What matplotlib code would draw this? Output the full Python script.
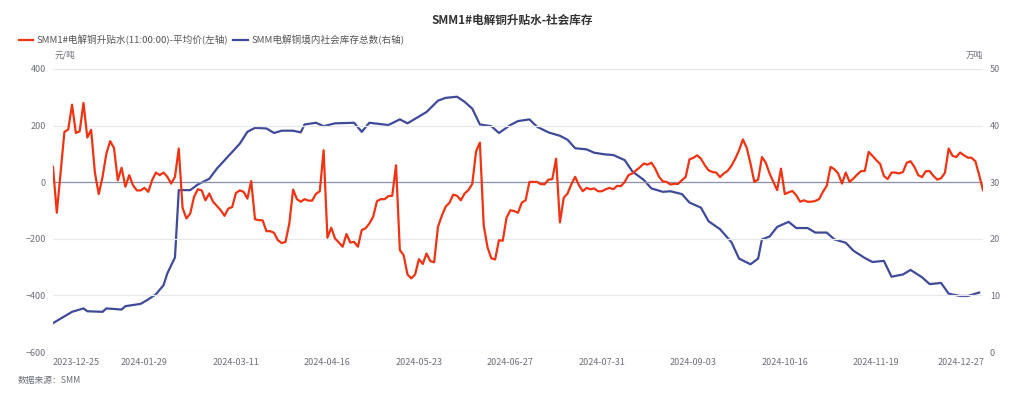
import matplotlib
matplotlib.use('Agg')
import matplotlib.pyplot as plt
import matplotlib.transforms as mtransforms
import numpy as np

plt.rcParams['font.family'] = ['Noto Sans CJK SC', 'DejaVu Sans']

# SMM1#电解铜升贴水 (元/吨), one value per trading day
premium = [
    54, -108, 35, 178, 186, 274, 174, 180, 280, 158,
    185, 33, -42, 19, 101, 145, 121, 7, 51, -16,
    25, -11, -29, -29, -20, -34, 7, 34, 25, 34,
    19, -5, 19, 119, -91, -128, -111, -52, -25, -29,
    -64, -40, -69, -84, -99, -119, -93, -88, -38, -29,
    -34, -58, 4, -131, -134, -135, -173, -173, -179, -205,
    -215, -211, -146, -26, -60, -69, -60, -65, -65, -41,
    -32, 113, -196, -161, -199, -213, -228, -183, -213, -211,
    -228, -169, -163, -146, -122, -67, -60, -60, -49, -48,
    60, -240, -258, -326, -340, -326, -272, -289, -252, -279,
    -283, -158, -119, -87, -73, -44, -48, -64, -40, -28,
    -6, 109, 140, -152, -230, -269, -273, -205, -207, -125,
    -99, -102, -108, -72, -64, 1, 1, 1, -7, -7,
    9, 11, 83, -142, -55, -40, -7, 19, -11, -32,
    -20, -25, -22, -32, -32, -25, -20, -25, -13, -14,
    1, 25, 31, 42, 53, 66, 62, 69, 48, 19,
    3, 1, -8, -6, -6, 7, 19, 81, 86, 95,
    83, 60, 42, 36, 34, 18, 31, 40, 58, 83,
    113, 151, 122, 66, 1, 9, 89, 69, 31, 1,
    -28, 48, -42, -36, -31, -46, -69, -64, -69, -69,
    -66, -60, -34, -13, 54, 46, 31, -5, 34, 1,
    13, 27, 39, 40, 107, 93, 78, 65, 22, 11,
    34, 34, 31, 36, 69, 74, 54, 25, 18, 39,
    39, 22, 9, 14, 33, 119, 93, 89, 105, 95,
    87, 86, 74, 25, -28,
]

# 社会库存 (万吨), published twice a week -> day index + value
stock_idx = [0, 5, 8, 9, 13, 14, 18, 19, 23, 25, 27, 29, 30, 32, 33, 36, 38,
             41, 43, 46, 49, 51, 53, 56, 58, 60, 63, 65, 66, 69, 71, 74, 79,
             81, 83, 88, 91, 93, 95, 98, 101, 103, 106, 108, 110, 112, 115,
             117, 120, 122, 125, 127, 130, 133, 135, 137, 140, 142, 145, 147,
             150, 152, 155, 157, 160, 162, 165, 167, 170, 172, 175, 178, 180,
             183, 185, 186, 188, 190, 193, 195, 198, 200, 203, 205, 208, 210,
             213, 215, 218, 220, 223, 225, 228, 230, 233, 235, 238, 240, 243]
stock_val = [5.1, 7.1, 7.7, 7.2, 7.1, 7.7, 7.5, 8.1, 8.5, 9.3, 10.2, 11.8,
             13.9, 16.7, 28.6, 28.6, 29.6, 30.6, 32.4, 34.6, 36.8, 38.9, 39.6,
             39.5, 38.7, 39.1, 39.1, 38.8, 40.2, 40.5, 39.9, 40.4, 40.5, 38.9,
             40.5, 40.1, 41.1, 40.4, 41.2, 42.4, 44.4, 44.9, 45.1, 44.2, 43.0,
             40.2, 39.9, 38.7, 40.1, 40.8, 41.1, 39.8, 38.8, 38.2, 37.5, 36.0,
             35.8, 35.2, 34.9, 34.8, 33.9, 31.9, 30.4, 28.9, 28.3, 28.4, 27.9,
             26.4, 25.5, 23.1, 21.7, 19.4, 16.5, 15.5, 16.5, 19.9, 20.4, 22.1,
             23.0, 21.9, 21.9, 21.1, 21.1, 19.9, 19.3, 17.9, 16.6, 15.9, 16.1,
             13.3, 13.7, 14.5, 13.2, 12.0, 12.2, 10.3, 9.9, 9.9, 10.5]

tick_labels = ['2023-12-25', '2024-01-29', '2024-03-11', '2024-04-16',
               '2024-05-23', '2024-06-27', '2024-07-31', '2024-09-03',
               '2024-10-16', '2024-11-19', '2024-12-27']
label_step = 24

red = '#F03312'
blue = '#3F4A9A'
txt = '#6E7079'

fig = plt.figure(figsize=(10.24, 3.99), dpi=100)
ax = fig.add_axes([53/1024, 1-352/399, 930/1024, 283/399])
ax2 = ax.twinx()

x = np.arange(len(premium))
ax.plot(x, premium, color=red, lw=1.6, zorder=3, label='SMM1#电解铜升贴水(11:00:00)-平均价(左轴)')
ax2.plot(stock_idx, stock_val, color=blue, lw=1.6, zorder=3, label='SMM电解铜境内社会库存总数(右轴)')

ax.set_xlim(0, len(premium) - 1)
ax.set_ylim(-600, 400)
ax.set_yticks(np.arange(-600, 401, 200))
ax2.set_ylim(0, 50)
ax2.set_yticks(np.arange(0, 51, 10))

ax.grid(axis='y', color='#E6E8EE', lw=0.9)
ax.axhline(0, color='#8C92AC', lw=0.9, zorder=2)
ax.set_zorder(ax2.get_zorder() + 1)
ax.patch.set_visible(False)

for a in (ax, ax2):
    for s in a.spines.values():
        s.set_visible(False)
    a.tick_params(length=0, labelsize=6.5, labelcolor=txt)
ax.tick_params(axis='y', pad=5)
ax2.tick_params(axis='y', pad=5)

ticks = list(range(0, len(premium), label_step))[:len(tick_labels)]
ax.set_xticks(ticks)
ax.set_xticklabels(tick_labels)
ax.tick_params(axis='x', pad=4)
xl = ax.get_xticklabels()
xl[0].set_ha('left')
xl[-1].set_transform(xl[-1].get_transform() + mtransforms.ScaledTranslation(-7/100, 0, fig.dpi_scale_trans))

fig.text(0.5, 1-20/399, 'SMM1#电解铜升贴水-社会库存', ha='center', va='center',
         fontsize=8.4, fontweight='bold', color='#333333')
fig.text(55/1024, 1-55/399, '元/吨', ha='left', va='center', fontsize=6.3, color=txt)
fig.text(983/1024, 1-55/399, '万吨', ha='right', va='center', fontsize=6.3, color=txt)
fig.text(18/1024, 1-381/399, '数据来源：SMM', ha='left', va='center', fontsize=6.3, color=txt)

h1, l1 = ax.get_legend_handles_labels()
h2, l2 = ax2.get_legend_handles_labels()
fig.legend(h1 + h2, l1 + l2, loc='center left', bbox_to_anchor=(10/1024, 1-40/399),
           ncol=2, frameon=False, fontsize=6.9, handlelength=1.5, handletextpad=0.4,
           columnspacing=0.5, labelcolor='#555555')

fig.savefig('out.png', dpi=100)
